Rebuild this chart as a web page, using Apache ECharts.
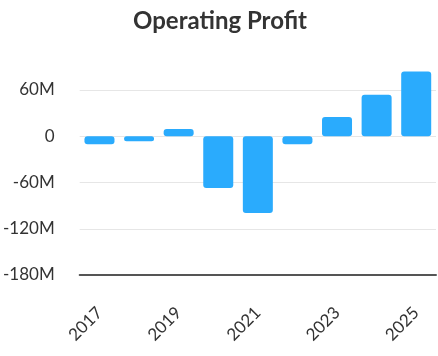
<!DOCTYPE html>
<html><head><meta charset="utf-8">
<script src="https://cdn.jsdelivr.net/npm/echarts@6/dist/echarts.min.js"></script>
<style>html,body{margin:0;padding:0;background:#fff}#c{width:438px;height:356px}</style>
</head><body><div id="c"></div>
<script>
var categories = ['2017','2018','2019','2020','2021','2022','2023','2024','2025'];
var values = [-10.5, -6.5, 9.5, -67, -99.5, -10.5, 25, 54, 84];
var yTicks = [-180, -120, -60, 0, 60];

var chart = echarts.init(document.getElementById('c'));
chart.setOption({
  animation: false,
  title: {
    text: 'Operating Profit', left: 128, top: 4,
    textStyle: {fontFamily: 'Lato', fontWeight: 'bold', fontSize: 24, color: '#333'}
  },
  grid: {left: 78, right: 2, top: 90, bottom: 81},
  xAxis: {
    type: 'category', data: categories,
    axisLine: {onZero: false, lineStyle: {color: '#555', width: 2}},
    axisTick: {show: false},
    axisLabel: {interval: 1, rotate: 45, fontFamily: 'Lato', fontSize: 17, color: '#333', margin: 35}
  },
  yAxis: {
    type: 'value', min: yTicks[0], max: yTicks[yTicks.length-1], interval: 60,
    axisLine: {show: false}, axisTick: {show: false},
    splitLine: {lineStyle: {color: '#e6e6e6', width: 1}},
    axisLabel: {fontFamily: 'Lato', fontSize: 17, color: '#333', margin: 25,
      formatter: function(v){ return v === 0 ? '0' : v + 'M'; }}
  },
  series: [{
    type: 'bar', data: values, barWidth: 30, clip: false,
    itemStyle: {color: '#2aabfd', borderRadius: 3}
  }]
});
</script></body></html>
